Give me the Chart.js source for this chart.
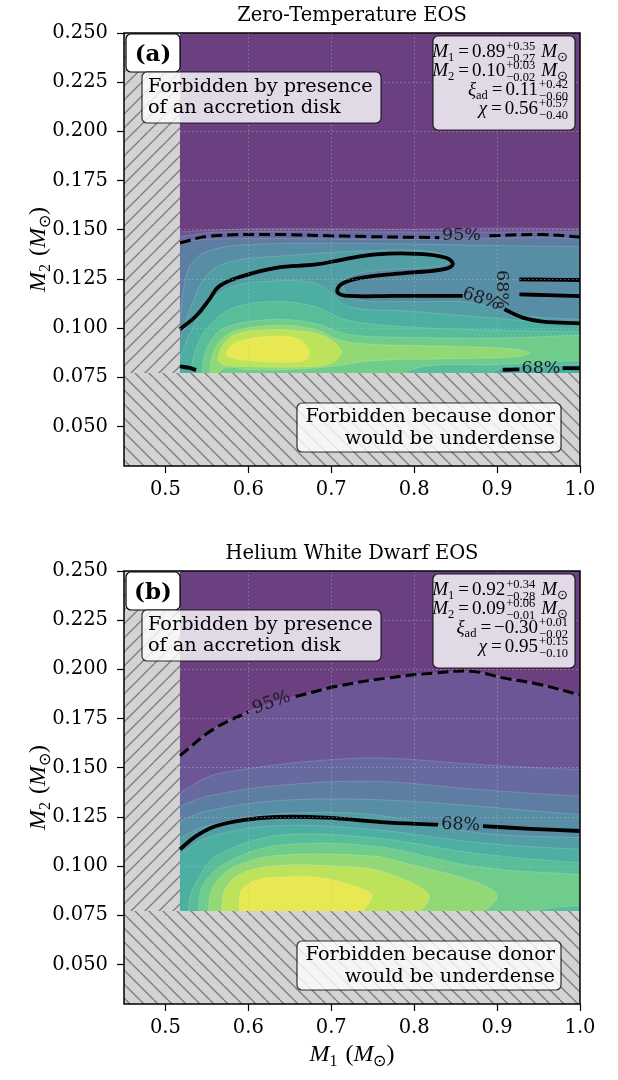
<!DOCTYPE html>
<html>
<head>
<meta charset="utf-8">
<script src="https://cdn.jsdelivr.net/npm/chart.js@4.4.1/dist/chart.umd.min.js"></script>
<style>
  body { margin: 0; background: #fff; width: 618px; height: 1080px; position: relative; overflow: hidden; }
  canvas { position: absolute; left: 0; }
</style>
</head>
<body>
<canvas id="zeroT" width="618" height="530" style="top:0"></canvas>
<canvas id="helium" width="618" height="542" style="top:538px"></canvas>
<script>
// axes
const xTicks = [0.5, 0.6, 0.7, 0.8, 0.9, 1.0];
const yTicks = [0.050, 0.075, 0.100, 0.125, 0.150, 0.175, 0.200, 0.225, 0.250];
const m1Range = [0.45, 1.0];
const m2Range = [0.03, 0.25];
const diskLimitM1 = 0.5175;      // left of this: accretion disk
const densityLimitM2 = 0.0772;   // below this: donor underdense
const levelCount = 12;

// ---- Zero-Temperature EOS ----
// filled density levels that run across the panel (level 1, 2, ...)
const zeroBands = [
  [[0.5175,0.149],[0.6,0.1505],[0.7,0.1505],[0.8,0.1503],[0.9,0.151],[1.0,0.1505]],
  [[0.5175,0.1465],[0.56,0.1488],[0.7,0.149],[0.85,0.1488],[1.0,0.149]],
  [[0.5175,0.141],[0.53,0.1445],[0.6,0.1455],[0.8,0.1452],[0.95,0.146],[1.0,0.1455]],
  [[0.5175,0.105],[0.522,0.12],[0.53,0.132],[0.55,0.139],[0.6,0.1425],[0.75,0.143],[0.9,0.142],[1.0,0.1415]],
  [[0.5175,0.094],[0.53,0.11],[0.55,0.127],[0.58,0.134],[0.65,0.137],[0.75,0.1395],[0.82,0.139],[0.845,0.135],[0.83,0.1315],[0.76,0.1295],[0.72,0.126],[0.715,0.12],[0.73,0.1145],[0.8,0.1135],[0.87,0.113],[0.92,0.107],[1.0,0.1045]],
  [[0.5175,0.085],[0.53,0.098],[0.55,0.112],[0.58,0.121],[0.63,0.124],[0.68,0.123],[0.70,0.118],[0.72,0.111],[0.8,0.1085],[0.9,0.105],[1.0,0.1015]]
];
// inner closed levels (continue numbering after the bands)
const zeroLobes = [
  [[0.535,0.065],[0.532,0.08],[0.537,0.09],[0.55,0.1],[0.58,0.11],[0.63,0.1135],[0.68,0.111],[0.72,0.104],[0.8,0.1005],[0.9,0.099],[1.0,0.0985],[1.04,0.0985],[1.04,0.081],[1.0,0.0815],[0.95,0.0805],[0.9,0.079],[0.87,0.065]],
  [[0.548,0.065],[0.545,0.08],[0.55,0.09],[0.57,0.1],[0.63,0.1045],[0.68,0.1025],[0.72,0.097],[0.78,0.0955],[0.9,0.095],[1.0,0.0965],[1.04,0.0965],[1.04,0.0835],[1.0,0.0835],[0.9,0.0815],[0.8,0.0795],[0.75,0.065]],
  [[0.556,0.07],[0.554,0.08],[0.56,0.09],[0.58,0.098],[0.633,0.1015],[0.68,0.0995],[0.71,0.094],[0.75,0.0918],[0.85,0.0908],[0.92,0.0895],[0.94,0.0875],[0.925,0.0855],[0.85,0.0845],[0.75,0.0835],[0.70,0.0805],[0.65,0.079],[0.6,0.079],[0.57,0.0795]],
  [[0.563,0.0835],[0.567,0.09],[0.585,0.097],[0.633,0.0993],[0.68,0.0975],[0.70,0.094],[0.712,0.088],[0.705,0.0835],[0.69,0.081],[0.65,0.0802],[0.6,0.0805],[0.572,0.0812]],
  [[0.573,0.0873],[0.58,0.0915],[0.597,0.0944],[0.6334,0.096],[0.6615,0.0944],[0.6735,0.088],[0.668,0.0836],[0.6334,0.0828],[0.593,0.0838],[0.577,0.0852]]
];
const zero95 = [
  [[0.5175,0.1434],[0.553,0.1468],[0.6334,0.1476],[0.7138,0.1468],[0.8303,0.146]],
  [[0.8907,0.147],[0.955,0.1476],[1.0,0.1463]]
];
const zero68 = [
  [[0.5175,0.0995],[0.5369,0.1062],[0.553,0.1147],[0.565,0.1214],[0.5932,0.1265],[0.6334,0.1307],[0.6816,0.1324],[0.7138,0.1349],[0.754,0.1375],[0.8022,0.1378],[0.8384,0.1358],[0.8465,0.1324],[0.8344,0.1299],[0.7941,0.1282],[0.7379,0.1257],[0.7118,0.1223],[0.7078,0.1181],[0.7218,0.1164],[0.7741,0.1164],[0.8585,0.1164]],
  [[0.9088,0.1096],[0.931,0.1054],[0.955,0.1034],[1.0,0.1025]],
  [[0.9269,0.1248],[0.96,0.1247],[1.0,0.1245]],
  [[0.9269,0.1172],[0.96,0.1168],[1.0,0.1163]],
  [[0.5175,0.0806],[0.53,0.0797],[0.537,0.0787]],
  [[0.9068,0.0789],[0.9269,0.0791]],
  [[0.979,0.0797],[1.0,0.0797]]
];
const zeroLabels = [['95%',0.857,0.147,0],['68%',0.881,0.1147,18],['68%',0.9048,0.1197,90],['68%',0.953,0.0797,0]];
const zeroStats = [['M','1','0.89','+0.35','\u22120.27'],['M','2','0.10','+0.03','\u22120.02'],['\u03be','ad','0.11','+0.42','\u22120.60'],['\u03c7','','0.56','+0.57','\u22120.40']];

// ---- Helium White Dwarf EOS ----
const heliumBands = [
  [[0.5175,0.1562],[0.557,0.1694],[0.606,0.1795],[0.658,0.1863],[0.707,0.1914],[0.767,0.1956],[0.823,0.1981],[0.87,0.1988],[0.907,0.196],[0.95,0.1925],[1.0,0.187]],
  [[0.5175,0.1373],[0.553,0.1457],[0.593,0.1491],[0.6735,0.1533],[0.76,0.155],[0.877,0.1517],[1.0,0.1491]],
  [[0.5175,0.1305],[0.55,0.1355],[0.633,0.1409],[0.75,0.1432],[0.877,0.139],[1.0,0.1356]],
  [[0.5175,0.1229],[0.55,0.128],[0.633,0.1333],[0.75,0.1339],[0.877,0.1305],[1.0,0.1263]],
  [[0.5175,0.1145],[0.55,0.1205],[0.633,0.1265],[0.75,0.1262],[0.877,0.117],[1.0,0.1145]],
  [[0.5175,0.106],[0.55,0.1145],[0.633,0.1206],[0.75,0.1187],[0.877,0.112],[1.0,0.1086]],
  [[0.531,0.065],[0.528,0.078],[0.531,0.086],[0.54,0.094],[0.56,0.105],[0.633,0.1155],[0.75,0.1145],[0.877,0.1064],[1.0,0.1018]]
];
const heliumLobes = [
  [[0.543,0.065],[0.54,0.08],[0.545,0.09],[0.57,0.101],[0.633,0.1104],[0.75,0.1103],[0.877,0.0997],[1.0,0.0959],[1.04,0.0955],[1.04,0.08],[1.0,0.0799],[0.96,0.0785],[0.93,0.074],[0.92,0.065]],
  [[0.555,0.065],[0.552,0.08],[0.558,0.09],[0.58,0.099],[0.633,0.1054],[0.75,0.1052],[0.80,0.1005],[0.86,0.094],[0.895,0.088],[0.9,0.084],[0.89,0.079],[0.87,0.072],[0.86,0.065]],
  [[0.572,0.065],[0.568,0.08],[0.574,0.09],[0.595,0.097],[0.633,0.1003],[0.70,0.1003],[0.75,0.0985],[0.79,0.093],[0.815,0.087],[0.818,0.083],[0.81,0.078],[0.80,0.065]],
  [[0.592,0.065],[0.589,0.08],[0.592,0.088],[0.61,0.093],[0.633,0.0944],[0.68,0.0945],[0.72,0.091],[0.748,0.0862],[0.748,0.083],[0.74,0.078],[0.73,0.065]]
];
const helium95 = [
  [[0.5175,0.1562],[0.557,0.1694],[0.600,0.1785]],
  [[0.657,0.1862],[0.7066,0.1914],[0.767,0.1956],[0.823,0.1981],[0.87,0.199],[0.907,0.1957],[0.95,0.1925],[1.0,0.187]]
];
const helium68 = [
  [[0.5175,0.1086],[0.5369,0.1153],[0.561,0.1204],[0.5932,0.1234],[0.6334,0.125],[0.6937,0.1247],[0.76,0.1224],[0.8288,0.1211]],
  [[0.883,0.1204],[0.94,0.119],[1.0,0.1179]]
];
const heliumLabels = [['95%',0.628,0.183,-20],['68%',0.856,0.121,2]];
const heliumStats = [['M','1','0.92','+0.34','\u22120.28'],['M','2','0.09','+0.06','\u22120.01'],['\u03be','ad','\u22120.30','+0.01','\u22120.02'],['\u03c7','','0.95','+0.15','\u22120.10']];

// ---- drawing helpers ----
const SERIF = '"DejaVu Serif"';
const MATH = '"Liberation Serif"';
const VIRIDIS = [[68,1,84],[72,40,120],[62,73,137],[49,104,142],[38,130,142],[31,158,137],[53,183,121],[110,206,88],[181,222,43],[253,231,37]];

function levelColor(k) {
  const s = (k + 0.5) / levelCount * 9;
  const i = Math.min(8, Math.floor(s)), f = s - i;
  const c = VIRIDIS[i].map((v, j) => v + (VIRIDIS[i + 1][j] - v) * f);
  const m = c.map(v => Math.round(v * 0.8 + 255 * 0.2));
  return `rgb(${m[0]},${m[1]},${m[2]})`;
}

function hatch(ctx, rising) {
  const s = 14, tile = document.createElement('canvas');
  tile.width = s; tile.height = s;
  const g = tile.getContext('2d');
  g.fillStyle = '#d3d3d3';
  g.fillRect(0, 0, s, s);
  g.strokeStyle = '#7d7d7d';
  g.lineWidth = 1.4;
  g.beginPath();
  for (const k of [-s, 0, s]) {
    if (rising) { g.moveTo(k, s); g.lineTo(k + s, 0); }
    else { g.moveTo(k, 0); g.lineTo(k + s, s); }
  }
  g.stroke();
  return ctx.createPattern(tile, 'repeat');
}

const pts = arr => arr.map(([x, y]) => ({x, y}));

function buildDatasets(ctx, bands, lobes, lines95, lines68) {
  const ds = [];
  let order = 1000;
  const area = (outline, color, tension) => ds.push({
    data: pts(outline), showLine: true, fill: 'shape', backgroundColor: color,
    borderColor: 'rgba(255,255,255,0.22)', borderWidth: 0.7, pointRadius: 0, tension, order: order--
  });
  area([[m1Range[0], m2Range[0]], [m1Range[1], m2Range[0]], [m1Range[1], m2Range[1]], [m1Range[0], m2Range[1]], [m1Range[0], m2Range[0]]], levelColor(0), 0);
  let level = 1;
  for (const b of bands) {
    const f = b[0], l = b[b.length - 1];
    area([...b, [1.04, l[1]], [1.04, 0.02], [0.47, 0.02], [0.47, f[1]], f], levelColor(level++), 0.35);
  }
  for (const lobe of lobes) area([...lobe, lobe[0]], levelColor(level++), 0.35);

  const hatchArea = (outline, pattern) => ds.push({
    data: pts(outline), showLine: true, fill: 'shape', backgroundColor: pattern,
    borderColor: 'rgba(0,0,0,0)', borderWidth: 0, pointRadius: 0, tension: 0, order: 50
  });
  hatchArea([[m1Range[0], densityLimitM2], [diskLimitM1, densityLimitM2], [diskLimitM1, m2Range[1]], [m1Range[0], m2Range[1]], [m1Range[0], densityLimitM2]], hatch(ctx, true));
  hatchArea([[m1Range[0], m2Range[0]], [m1Range[1], m2Range[0]], [m1Range[1], densityLimitM2], [m1Range[0], densityLimitM2], [m1Range[0], m2Range[0]]], hatch(ctx, false));

  for (const seg of lines95) ds.push({data: pts(seg), showLine: true, fill: false, borderColor: '#000', borderWidth: 3, borderDash: [11, 5], pointRadius: 0, tension: 0.4, order: 10});
  for (const seg of lines68) ds.push({data: pts(seg), showLine: true, fill: false, borderColor: '#000', borderWidth: 3.8, borderCapStyle: 'butt', pointRadius: 0, tension: 0.4, order: 10});
  return ds;
}

function partWidth(ctx, p) {
  if (p.gap) return p.gap;
  ctx.font = p.f;
  if (p.up !== undefined) return Math.max(ctx.measureText(p.up).width, ctx.measureText(p.dn).width);
  return ctx.measureText(p.t).width;
}

function drawRich(ctx, parts, x, y, align) {
  const w = parts.reduce((s, p) => s + partWidth(ctx, p), 0);
  let cx = align === 'right' ? x - w : align === 'center' ? x - w / 2 : x;
  ctx.textAlign = 'left';
  ctx.textBaseline = 'alphabetic';
  for (const p of parts) {
    const pw = partWidth(ctx, p);
    ctx.font = p.f;
    if (p.t !== undefined) ctx.fillText(p.t, cx, y + (p.dy || 0));
    if (p.up !== undefined) { ctx.fillText(p.up, cx, y - 7); ctx.fillText(p.dn, cx, y + 5); }
    cx += pw;
  }
}

function statParts([sym, sub, val, up, dn]) {
  const main = `19px ${MATH}`, it = `italic 19px ${MATH}`, scr = `12.5px ${MATH}`;
  const parts = [{t: sym, f: it}];
  if (sub) parts.push({t: sub, f: scr, dy: 4});
  parts.push({gap: 4}, {t: '=', f: main}, {gap: 3}, {t: val, f: main}, {gap: 1}, {up, dn, f: scr});
  if (sym === 'M') parts.push({gap: 6}, {t: 'M', f: it}, {t: '\u2299', f: scr, dy: 4});
  return parts;
}

function massLabel(n) {
  const main = `24px ${MATH}`, it = `italic 24px ${MATH}`, scr = `16px ${MATH}`;
  return [{t: 'M', f: it}, {t: n, f: scr, dy: 5}, {gap: 8}, {t: '(', f: main}, {t: 'M', f: it}, {t: '\u2299', f: scr, dy: 5}, {t: ')', f: main}];
}

function roundBox(ctx, x, y, w, h, r, fill, stroke) {
  ctx.beginPath();
  ctx.roundRect(x, y, w, h, r);
  ctx.fillStyle = fill;
  ctx.fill();
  ctx.lineWidth = 1.2;
  ctx.strokeStyle = stroke;
  ctx.stroke();
}

const decor = {
  id: 'decor',
  afterDraw(chart, args, o) {
    const {ctx, chartArea: a} = chart;
    const sx = chart.scales.x, sy = chart.scales.y;
    ctx.save();

    // contour labels
    ctx.fillStyle = '#1a1a1a';
    ctx.font = `17.5px ${SERIF}`;
    ctx.textAlign = 'center';
    ctx.textBaseline = 'middle';
    for (const [txt, x, y, rot] of o.labels) {
      ctx.save();
      ctx.translate(sx.getPixelForValue(x), sy.getPixelForValue(y));
      ctx.rotate(rot * Math.PI / 180);
      ctx.fillText(txt, 0, 0);
      ctx.restore();
    }

    // frame
    ctx.strokeStyle = '#000';
    ctx.lineWidth = 1.5;
    ctx.strokeRect(a.left, a.top, a.right - a.left, a.bottom - a.top);

    // title
    ctx.fillStyle = '#000';
    ctx.font = `19.5px ${SERIF}`;
    ctx.textAlign = 'center';
    ctx.textBaseline = 'alphabetic';
    ctx.fillText(o.title, (a.left + a.right) / 2, 21);

    // panel letter
    roundBox(ctx, a.left + 2, a.top + 1, 54, 38, 5, '#fff', '#000');
    ctx.fillStyle = '#000';
    ctx.font = `bold 23px ${SERIF}`;
    ctx.textAlign = 'center';
    ctx.fillText(o.letter, a.left + 29, a.top + 28);

    // forbidden region notes
    roundBox(ctx, a.left + 18, a.top + 39, 239, 51, 5, 'rgba(255,255,255,0.8)', 'rgba(0,0,0,0.8)');
    ctx.fillStyle = '#000';
    ctx.font = `19.3px ${SERIF}`;
    ctx.textAlign = 'left';
    ctx.fillText('Forbidden by presence', a.left + 24, a.top + 59);
    ctx.fillText('of an accretion disk', a.left + 24, a.top + 80);

    roundBox(ctx, a.left + 173, a.top + 370, 264, 49, 5, 'rgba(255,255,255,0.8)', 'rgba(0,0,0,0.8)');
    ctx.fillStyle = '#000';
    ctx.textAlign = 'right';
    ctx.fillText('Forbidden because donor', a.left + 431, a.top + 389);
    ctx.fillText('would be underdense', a.left + 431, a.top + 411);

    // posterior summary
    roundBox(ctx, a.left + 309, a.top + 3, 142, 94, 5, 'rgba(255,255,255,0.8)', 'rgba(0,0,0,0.8)');
    ctx.fillStyle = '#000';
    o.stats.forEach((s, i) => drawRich(ctx, statParts(s), a.left + 444, a.top + 24 + i * 19, 'right'));

    // axis titles
    ctx.save();
    ctx.translate(45, (a.top + a.bottom) / 2);
    ctx.rotate(-Math.PI / 2);
    drawRich(ctx, massLabel('2'), 0, 0, 'center');
    ctx.restore();
    if (o.xTitle) drawRich(ctx, massLabel('1'), (a.left + a.right) / 2, a.bottom + 57, 'center');

    ctx.restore();
  }
};

const GRID = 'rgba(190,190,190,0.55)';

function makePanel(id, cfg) {
  const canvas = document.getElementById(id);
  const ctx = canvas.getContext('2d');
  const tickFont = {family: 'DejaVu Serif', size: 19.5};
  return new Chart(ctx, {
    type: 'scatter',
    data: {datasets: buildDatasets(ctx, cfg.bands, cfg.lobes, cfg.l95, cfg.l68)},
    options: {
      responsive: false,
      animation: false,
      events: [],
      devicePixelRatio: 1,
      layout: {padding: {top: 33, right: 38, left: 0, bottom: 0}},
      elements: {line: {capBezierPoints: false}, point: {radius: 0}},
      plugins: {
        legend: {display: false},
        tooltip: {enabled: false},
        filler: {drawTime: 'beforeDatasetDraw'},
        decor: cfg
      },
      scales: {
        x: {
          type: 'linear', min: m1Range[0], max: m1Range[1],
          afterBuildTicks: s => { s.ticks = xTicks.map(v => ({value: v})); },
          afterFit: s => { s.height = cfg.xAxisHeight; },
          grid: {z: 1, color: GRID, lineWidth: 0.9, tickColor: '#000', tickLength: 7, tickWidth: 1.2},
          border: {display: false, dash: [1.5, 2.5]},
          ticks: {font: tickFont, color: '#000', padding: 5, maxRotation: 0, autoSkip: false, callback: v => v.toFixed(1)}
        },
        y: {
          type: 'linear', min: m2Range[0], max: m2Range[1],
          afterBuildTicks: s => { s.ticks = yTicks.map(v => ({value: v})); },
          afterFit: s => { s.width = 124; },
          grid: {z: 1, color: GRID, lineWidth: 0.9, tickColor: '#000', tickLength: 7, tickWidth: 1.2},
          border: {display: false, dash: [1.5, 2.5]},
          ticks: {font: tickFont, color: '#000', padding: 9, autoSkip: false, callback: v => v.toFixed(3)}
        }
      }
    },
    plugins: [decor]
  });
}

makePanel('zeroT', {
  title: 'Zero-Temperature EOS', letter: '(a)', xTitle: false, xAxisHeight: 64,
  bands: zeroBands, lobes: zeroLobes, l95: zero95, l68: zero68, labels: zeroLabels, stats: zeroStats
});
makePanel('helium', {
  title: 'Helium White Dwarf EOS', letter: '(b)', xTitle: true, xAxisHeight: 76,
  bands: heliumBands, lobes: heliumLobes, l95: helium95, l68: helium68, labels: heliumLabels, stats: heliumStats
});
</script>
</body>
</html>
